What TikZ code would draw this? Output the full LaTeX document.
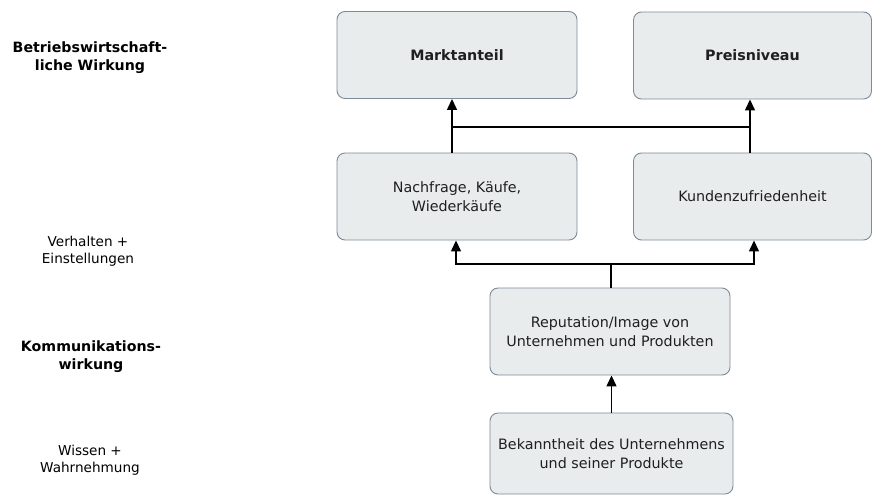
\documentclass[tikz,border=0pt]{standalone}
\usepackage{fontspec}
\setmainfont{DejaVu Sans}
\usetikzlibrary{arrows.meta}
\definecolor{boxfill}{HTML}{E9ECEC}
\definecolor{boxline}{HTML}{7D8A99}
\tikzset{
  box/.style={draw=boxline, fill=boxfill, line width=0.9pt, rounded corners=8pt,
    align=center, inner sep=2pt, font=\fontsize{14.3}{19}\selectfont, text=black!88},
  side/.style={align=center, font=\fontsize{13.6}{17}\selectfont, text=black},
  sidebold/.style={align=center, font=\bfseries\fontsize{14.2}{18}\selectfont, text=black},
  conn/.style={line width=1.4pt, black},
  arr/.style={conn, -{Triangle[width=10pt,length=11pt]}},
}
\begin{document}
\begin{tikzpicture}[x=1pt,y=-1pt]
\useasboundingbox (0,0) rectangle (873,496);
% boxes
\node[box, minimum width=240pt, minimum height=87pt] (markt) at (457,55) {\textbf{Marktanteil}};
\node[box, minimum width=238pt, minimum height=87pt] (preis) at (752.5,55.5) {\textbf{Preisniveau}};
\node[box, minimum width=240pt, minimum height=87pt] (nach) at (457,196.5) {Nachfrage, Käufe,\\Wiederkäufe};
\node[box, minimum width=238pt, minimum height=87pt] (kunden) at (752.5,196.5) {Kundenzufriedenheit};
\node[box, minimum width=240pt, minimum height=87pt] (rep) at (610,331.5) {Reputation/Image von\\Unternehmen und Produkten};
\node[box, minimum width=243pt, minimum height=81pt] (bek) at (611.5,453.5) {Bekanntheit des Unternehmens\\und seiner Produkte};
% side labels
\node[sidebold] (l1) at (90,58) {Betriebswirtschaft-\\liche Wirkung};
\node[side] (l2) at (88,251) {Verhalten +\\Einstellungen};
\node[sidebold] (l3) at (91,357) {Kommunikations-\\wirkung};
\node[side] (l4) at (90,460) {Wissen +\\Wahrnehmung};
% connectors top level
\coordinate (j1) at (452,127);
\coordinate (j2) at (750,127);
\draw[arr] ([xshift=-5pt]nach.north) -- ([xshift=-5pt]markt.south);
\draw[arr] ([xshift=-2.5pt]kunden.north) -- ([xshift=-2.5pt]preis.south);
\draw[conn] (j1) -- (j2);
% connectors middle
\coordinate (j3) at (611,264);
\draw[conn] ([xshift=1pt]rep.north) -- (j3);
\draw[arr] (j3) -| ([xshift=-1pt]nach.south);
\draw[arr] (j3) -| ([xshift=1.5pt]kunden.south);
% bottom
\draw[arr] ([xshift=0pt]bek.north) -- ([xshift=1.5pt]rep.south);
\end{tikzpicture}
\end{document}
